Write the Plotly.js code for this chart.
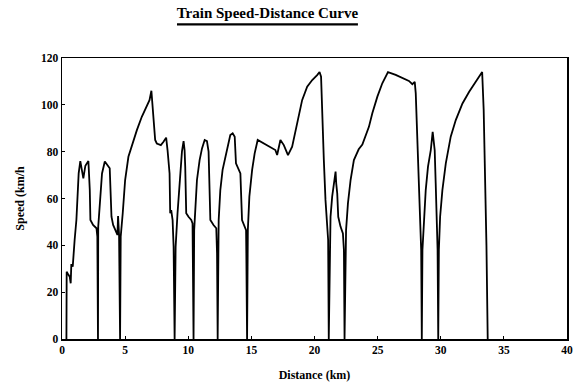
<!DOCTYPE html>
<html>
<head>
<meta charset="utf-8">
<script src="https://cdn.plot.ly/plotly-3.0.1.min.js"></script>
<style>html,body{margin:0;padding:0;background:#fff;}#chart{width:575px;height:388px;}</style>
</head>
<body>
<div id="chart"></div>
<script>
// Distance along the line (km)
const distanceKm = [
  0.35, 0.37, 0.5, 0.61, 0.69, 0.74, 0.85, 0.93, 1.0, 1.14, 1.19, 1.32, 1.45, 1.59, 1.69, 1.85, 2.09, 2.2, 2.25, 2.46, 2.73, 2.8, 2.85,
  2.87, 3.04, 3.17, 3.39, 3.65, 3.78, 3.92, 4.05, 4.23, 4.39, 4.44, 4.52, 4.6,
  4.65, 4.81, 5.0, 5.26, 5.53, 5.93, 6.32, 6.72, 6.93, 7.08, 7.25, 7.38, 7.51, 7.83, 8.04, 8.25, 8.36, 8.52, 8.57, 8.65, 8.76, 8.84, 8.92,
  9.0, 9.15, 9.31, 9.42, 9.5, 9.63, 9.71, 9.76, 9.84, 10.02, 10.24, 10.34, 10.42,
  10.47, 10.56, 10.69, 10.9, 11.09, 11.3, 11.48, 11.61, 11.67, 11.75, 12.0, 12.22, 12.28, 12.33,
  12.41, 12.54, 12.72, 12.94, 13.15, 13.33, 13.52, 13.68, 13.78, 13.99, 14.13, 14.26, 14.47, 14.58, 14.6, 14.66,
  14.72, 14.84, 15.06, 15.26, 15.5, 15.98, 16.51, 16.9, 17.04, 17.3, 17.57, 17.9, 18.23, 18.63, 19.02, 19.42, 19.82, 20.21, 20.4, 20.52, 20.6, 20.74, 20.87, 21.0, 21.08, 21.13,
  21.2, 21.27, 21.4, 21.53, 21.67, 21.72, 21.8, 21.88, 22.06, 22.25, 22.33, 22.38,
  22.43, 22.5, 22.65, 22.86, 23.12, 23.5, 23.79, 24.05, 24.31, 24.58, 24.98, 25.37, 25.82, 26.43, 26.96, 27.48, 27.75, 27.94, 28.02, 28.15, 28.28, 28.36, 28.45, 28.5,
  28.55, 28.68, 28.81, 28.99, 29.21, 29.36, 29.42, 29.52, 29.6, 29.68, 29.75, 29.8,
  29.85, 29.95, 30.13, 30.4, 30.79, 31.19, 31.72, 32.25, 32.78, 33.28, 33.4, 33.5, 33.62, 33.72
];
// Train speed (km/h)
const speedKmh = [
  0, 28.7, 27.5, 26.6, 23.8, 32, 30.9, 39.4, 42.3, 50.8, 56.5, 70.7, 76, 71.4, 68.6, 74, 76, 63.6, 50.8, 48.7, 47.3, 43.7, 0,
  48, 60.8, 70.7, 75.8, 73.6, 72.9, 52.2, 48.7, 46.5, 44.4, 52.5, 44.4, 0,
  43.7, 53.7, 67.9, 77.8, 82.8, 89.2, 94.9, 99.2, 102, 106, 94.9, 85, 83.5, 82.8, 84.2, 86, 80.7, 70.7, 53.7, 55, 50.8, 39.4, 0,
  39.4, 53.7, 67.9, 73.6, 80, 84.5, 80.7, 73.6, 53.7, 52.2, 50.8, 49.4, 0,
  46.5, 56.5, 67.9, 76.4, 81.4, 85, 84.5, 80, 60.8, 50.8, 48.7, 47.3, 36.6, 0,
  50.8, 63.6, 72.2, 77.8, 83.5, 87.1, 87.8, 86.4, 75, 72.2, 70.7, 50.8, 48, 46.5, 36.6, 0,
  46.5, 60.8, 72.2, 79.3, 85, 83.5, 82.1, 80.7, 78.6, 85, 82.8, 78.5, 82.1, 92.1, 102, 107.7, 110.6, 112.7, 114, 112, 94.9, 76.4, 59.4, 49.4, 42.3, 0,
  38, 52.2, 60.8, 66.5, 71.5, 66.5, 62.2, 52.2, 48, 45.1, 38, 0,
  38, 46.5, 58, 68, 76.4, 81, 83, 86.4, 90.6, 96.4, 103.5, 109.2, 114, 112.8, 111.6, 110.2, 108.8, 109.8, 104.9, 82.1, 67.9, 52.2, 38, 0,
  38, 50.8, 63.6, 73.6, 80.7, 88.5, 85.7, 80.7, 66.5, 52.2, 38, 0,
  38, 52.2, 63.6, 75, 86.4, 93.5, 100.6, 105.6, 109.9, 114, 98, 75, 40, 0
];
const xTicks = [0, 5, 10, 15, 20, 25, 30, 35, 40];
const yTicks = [0, 20, 40, 60, 80, 100, 120];
const chartTitle = 'Train Speed-Distance Curve';
const xTitle = 'Distance (km)';
const yTitle = 'Speed (km/h';

const serif = 'Liberation Serif, Times New Roman, serif';

const trace = {
  x: distanceKm,
  y: speedKmh,
  type: 'scatter',
  mode: 'lines',
  line: {color: '#000', width: 1.8},
  hoverinfo: 'skip'
};

const axisCommon = {
  showgrid: false,
  zeroline: false,
  showline: true,
  linecolor: '#000',
  linewidth: 1.5,
  mirror: true,
  ticks: 'inside',
  ticklen: 3,
  tickwidth: 1,
  tickcolor: '#000',
  tickfont: {family: serif, size: 11.5, color: '#000', weight: 'bold'}
};

const layout = {
  width: 575,
  height: 388,
  margin: {l: 62, r: 8, t: 58, b: 49},
  paper_bgcolor: '#fff',
  plot_bgcolor: '#fff',
  showlegend: false,
  title: {
    text: '<b>' + chartTitle + '</b>',
    font: {family: serif, size: 15, color: '#000'},
    xref: 'container', x: 0.465, xanchor: 'center',
    yref: 'container', y: 0.968, yanchor: 'middle'
  },
  xaxis: Object.assign({}, axisCommon, {
    range: [0, 40],
    tickvals: xTicks,
    ticktext: xTicks.map(String),
    title: {text: '<b>' + xTitle + '</b>', font: {family: serif, size: 12, color: '#000'}, standoff: 15}
  }),
  yaxis: Object.assign({}, axisCommon, {
    range: [0, 120],
    tickvals: yTicks,
    ticktext: yTicks.map(String),
    title: {text: '<b>' + yTitle + '</b>', font: {family: serif, size: 12, color: '#000'}, standoff: 14}
  }),
  shapes: [{
    type: 'line', xref: 'paper', yref: 'paper',
    x0: 0.2277, x1: 0.586, y0: 1.12, y1: 1.12,
    line: {color: '#000', width: 2.2}
  }]
};

Plotly.newPlot('chart', [trace], layout, {displayModeBar: false, staticPlot: true});
</script>
</body>
</html>
